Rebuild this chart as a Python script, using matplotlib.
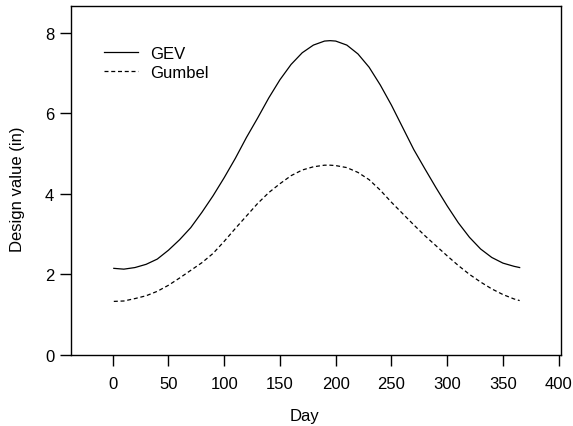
import matplotlib
matplotlib.use('Agg')
import matplotlib.pyplot as plt

plt.rcParams['font.family'] = ['Liberation Sans', 'DejaVu Sans']

# values
days = [1, 10, 20, 30, 40, 50, 60, 70, 80, 90, 100, 110, 120, 130, 140, 150, 160, 170,
        180, 190, 195, 200, 210, 220, 230, 240, 250, 260, 270, 280, 290, 300, 310, 320,
        330, 340, 350, 360, 365]
gev = [2.15, 2.13, 2.17, 2.25, 2.38, 2.60, 2.86, 3.16, 3.54, 3.95, 4.40, 4.88, 5.40, 5.88,
       6.38, 6.83, 7.21, 7.50, 7.69, 7.79, 7.80, 7.79, 7.69, 7.47, 7.14, 6.70, 6.20, 5.65,
       5.10, 4.62, 4.15, 3.70, 3.28, 2.92, 2.63, 2.42, 2.28, 2.20, 2.17]
gumbel = [1.33, 1.34, 1.40, 1.47, 1.58, 1.73, 1.91, 2.10, 2.29, 2.52, 2.82, 3.14, 3.45, 3.76,
          4.03, 4.25, 4.45, 4.59, 4.67, 4.71, 4.71, 4.70, 4.65, 4.53, 4.35, 4.09, 3.79, 3.51,
          3.23, 2.96, 2.71, 2.46, 2.22, 2.00, 1.81, 1.64, 1.50, 1.39, 1.35]
xticks = [0, 50, 100, 150, 200, 250, 300, 350, 400]
yticks = [0, 2, 4, 6, 8]

fig = plt.figure(figsize=(5.73, 4.27), dpi=100)
ax = fig.add_axes([0.1239, 0.1663, 0.8546, 0.8173])

ax.plot(days, gev, color='black', lw=0.9, label='GEV')
ax.plot(days, gumbel, color='black', lw=0.9, dashes=(3.2, 2.2), label='Gumbel')

ax.set_xlim(-37.4, 401.8)
ax.set_ylim(0, 8.66)
ax.set_xticks(xticks)
ax.set_yticks(yticks)
ax.tick_params(direction='out', length=8, width=1.0, labelsize=12, colors='black')
ax.tick_params(axis='x', pad=7)
ax.tick_params(axis='y', pad=4)
for s in ax.spines.values():
    s.set_linewidth(1.0)

fig.text(304.5 / 573, 1 - 417 / 427, 'Day', ha='center', va='center', fontsize=12)
fig.text(18 / 573, 1 - 189 / 427, 'Design value (in)', ha='center', va='center',
         rotation=90, fontsize=12)

ax.legend(loc='upper left', bbox_to_anchor=(0.067, 0.886), frameon=False, fontsize=12,
          handlelength=2.05, handletextpad=0.72, labelspacing=0.25, borderpad=0,
          borderaxespad=0)

fig.savefig('out.png', dpi=100)
